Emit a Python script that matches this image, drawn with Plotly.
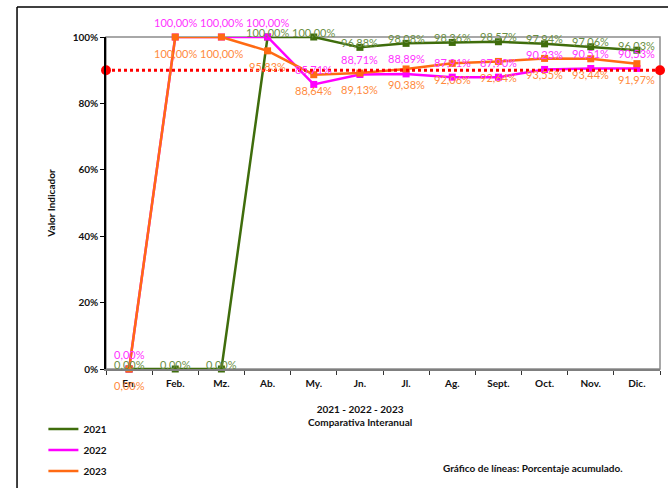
import plotly.graph_objects as go

# Monthly categories and accumulated percentages per year
months = ["En.", "Feb.", "Mz.", "Ab.", "My.", "Jn.", "Jl.", "Ag.", "Sept.", "Oct.", "Nov.", "Dic."]
values_2021 = [0.00, 0.00, 0.00, 100.00, 100.00, 96.88, 98.08, 98.36, 98.57, 97.94, 97.06, 96.03]
values_2022 = [0.00, 100.00, 100.00, 100.00, 85.71, 88.71, 88.89, 87.91, 87.90, 90.23, 90.51, 90.53]
values_2023 = [0.00, 100.00, 100.00, 95.83, 88.64, 89.13, 90.38, 92.06, 92.64, 93.55, 93.44, 91.97]
target_value = 90.0
y_ticks = [0, 20, 40, 60, 80, 100]

FONT = "Lato"
series = [
    ("2021", values_2021, "#3f6d0c", "#6b8f45", 5),
    ("2022", values_2022, "#ff00ff", "#ff33ff", 15),
    ("2023", values_2023, "#ff6a13", "#ff8a3d", -16),
]


def fmt(v):
    return f"{v:.2f}".replace(".", ",") + "%"


fig = go.Figure()

# Target line at 90 % with end dots, spanning the full plot width
fig.add_trace(go.Scatter(
    x=[0, 1], y=[target_value, target_value], xaxis="x2",
    mode="lines+markers",
    line=dict(color="#ff0000", width=3, dash="dot"),
    marker=dict(color="#ff0000", size=10, symbol="circle"),
    cliponaxis=False, showlegend=False, hoverinfo="skip",
))

annotations = []
for name, vals, color, label_color, shift in series:
    fig.add_trace(go.Scatter(
        x=months, y=vals, name=name, legendgroup=name,
        mode="lines+markers",
        line=dict(color=color, width=2.5),
        marker=dict(color=color, size=7, symbol="square"),
        cliponaxis=False, showlegend=False,
    ))
    for m, v in zip(months, vals):
        annotations.append(dict(
            x=m, y=v, xref="x", yref="y", text=fmt(v), showarrow=False,
            yshift=shift, font=dict(family=FONT, size=11, color=label_color),
        ))

# Legend entries show the line style only
for name, vals, color, label_color, shift in series:
    fig.add_trace(go.Scatter(
        x=[None], y=[None], name=name, legendgroup=name,
        mode="lines", line=dict(color=color, width=2.5),
        showlegend=True,
    ))

# Axis caption and chart note
annotations.append(dict(
    x=0.458, y=-0.096, xref="paper", yref="paper", xanchor="center", yanchor="top",
    text="<b>2021 - 2022 - 2023<br>Comparativa Interanual</b>", showarrow=False,
    font=dict(family=FONT, size=10, color="#111111"), align="center",
))
annotations.append(dict(
    x=0.771, y=-0.298, xref="paper", yref="paper", xanchor="center", yanchor="middle",
    text="<b>Gráfico de líneas: Porcentaje acumulado.</b>", showarrow=False,
    font=dict(family=FONT, size=10, color="#111111"),
))

shapes = [
    # plot area frame (top and right edges in grey)
    dict(type="rect", xref="paper", yref="paper", x0=0, x1=1, y0=0, y1=1,
         line=dict(color="#8c8c8c", width=1.5), layer="below"),
    # outer page frame
    dict(type="line", xref="paper", yref="paper", x0=-0.1606, x1=-0.1606, y0=1.0904, y1=-0.40,
         line=dict(color="#000000", width=1.5)),
    dict(type="line", xref="paper", yref="paper", x0=-0.1606, x1=1.05, y0=1.0904, y1=1.0904,
         line=dict(color="#000000", width=1.5)),
]

fig.update_layout(
    width=668, height=488,
    margin=dict(l=106, r=8, t=37, b=119, autoexpand=False),
    paper_bgcolor="white", plot_bgcolor="white",
    font=dict(family=FONT, size=10, color="#111111"),
    xaxis=dict(
        type="category", categoryorder="array", categoryarray=months,
        range=[-0.5, 11.5], tickson="boundaries", ticks="outside", ticklen=4,
        tickcolor="#333333", showline=True, linecolor="#7f7f7f", linewidth=1.5,
        showgrid=False, zeroline=False, ticklabelstandoff=4,
        tickfont=dict(family=FONT, size=10, color="#111111", weight="bold"),
    ),
    xaxis2=dict(overlaying="x", range=[0, 1], visible=False, fixedrange=True),
    yaxis=dict(
        range=[0, 100], tickvals=y_ticks, ticktext=[f"{t}%" for t in y_ticks],
        ticks="outside", ticklen=4, tickcolor="#000000",
        showline=True, linecolor="#000000", linewidth=1.5,
        showgrid=False, zeroline=False,
        tickfont=dict(family=FONT, size=10, color="#111111", weight="bold"),
        title=dict(text="<b>Valor Indicador</b>", standoff=15,
                   font=dict(family=FONT, size=10, color="#111111")),
    ),
    legend=dict(
        x=-0.113, y=-0.137, xanchor="left", yanchor="top",
        font=dict(family=FONT, size=10, color="#111111", weight="bold"),
        bgcolor="rgba(0,0,0,0)", tracegroupgap=2, itemwidth=30,
    ),
    annotations=annotations,
    shapes=shapes,
    showlegend=True,
)

fig.write_html("out.html")
